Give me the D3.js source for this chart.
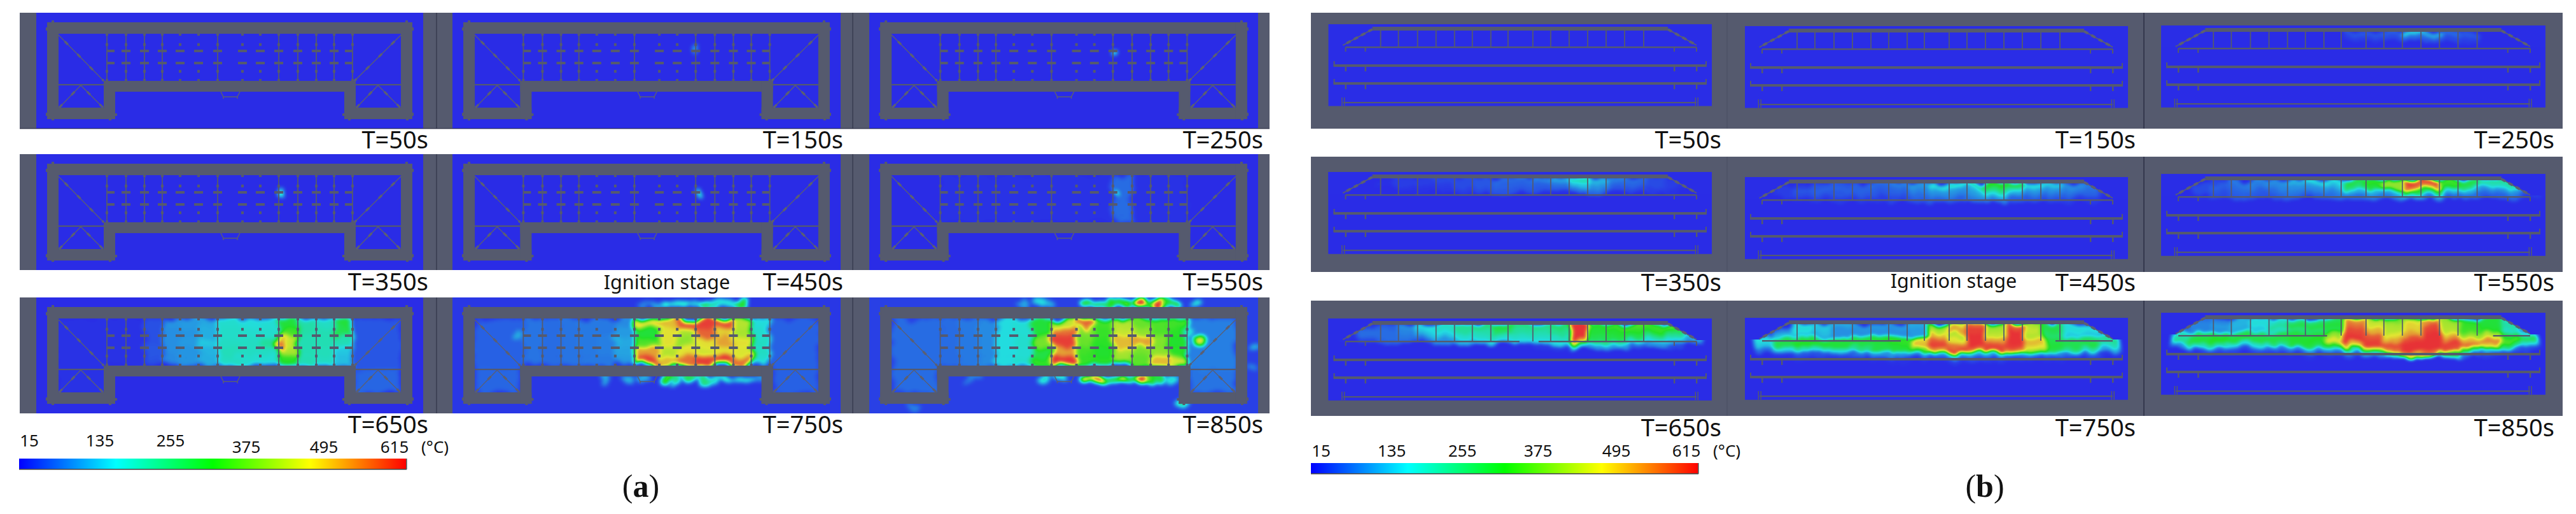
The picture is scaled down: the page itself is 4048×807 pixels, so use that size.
<!DOCTYPE html>
<html><head><meta charset="utf-8">
<script src="https://cdn.jsdelivr.net/npm/d3@7"></script>
<style>html,body{margin:0;padding:0;background:#fff}svg{display:block}text{font-family:"Noto Sans",sans-serif;fill:#111}</style>
</head><body><svg id="c" width="4048" height="807"></svg>
<script>
// ---------- chart values ----------
const times = [50,150,250,350,450,550,650,750,850];
const legendTicks = [15,135,255,375,495,615];
const legendColors = ["#0000ff","#00ffff","#00ff00","#ffff00","#ff0000"];
const fieldColors = ["#2a2de6","#23dce0","#23e128","#e1e632","#e82d37"];
const stageLabel = "Ignition stage";

// (a) plan view: bay temperatures, five rows by thirteen bays
const planBays550 = [[20,20,20,20,20,20,20,20,20,70,20,20,20],[20,20,20,20,20,20,20,20,20,70,20,20,20],[20,20,20,20,20,20,20,20,20,70,20,20,20],[20,20,20,20,20,20,20,20,20,70,20,20,20],[20,20,20,20,20,20,20,20,20,70,20,20,20]];
const planBays650 = [
 [20,20,45,105,110,120,180,170,175,300,210,190,300],
 [20,20,45,100,105,125,185,180,180,340,210,200,280],
 [20,20,45,100,110,150,190,190,220,440,200,200,200],
 [20,20,50,100,105,130,195,190,190,420,200,195,150],
 [20,20,45,95,105,125,190,180,175,320,200,190,140]];
const planBays750 = [
 [75,70,75,80,80,95,480,500,590,600,590,430,170],
 [75,70,75,80,80,110,300,470,420,570,480,420,180],
 [75,70,75,80,85,120,350,470,400,470,520,470,190],
 [75,70,75,80,85,115,520,430,470,450,470,460,190],
 [75,70,75,80,80,110,600,500,560,600,610,560,180]];
const planBays850 = [
 [70,80,95,165,175,300,440,570,340,430,370,350,340],
 [70,80,95,165,175,300,560,380,330,440,400,350,320],
 [70,80,95,165,180,380,600,370,320,500,520,390,310],
 [70,80,95,165,175,290,520,340,310,420,380,400,320],
 [70,80,95,165,180,330,610,330,320,410,360,500,450]];
// wing temperatures: upper left, lower left, upper right, lower right
const planWings650 = [20,20,50,65];
const planWings750 = [60,65,60,60];
const planWings850 = [70,70,85,75];
// local hot spots
const planSpots150 = [[380,60,150]];
const planSpots250 = [[385,62,300]];
const planSpots350 = [[382,60,300]];
const planSpots450 = [[384,62,320]];
const planSpots550 = [[385,62,400]];
const planSpots650 = [[381,76,560],[384,64,480]];
const planSpots750 = [[255,70,130],[105,60,130],[334,10,240],[350,10,190],[393,10,280],[410,10,200],[452,10,320],[360,10,210],[375,10,160],[435,10,180],[419,10,190],[320,10,120],[300,10,90],[334,128,360],[350,128,240],[372,128,280],[393,128,250],[412,128,190],[431,128,240],[450,128,190],[461,128,210],[238,128,130],[276,128,130],[300,128,130],[480,128,110]];
const planSpots850 = [[515,69,470],[500,55,190],[341,10,340],[358,10,290],[376,10,340],[390,10,330],[404,10,380],[425,10,620],[440,10,330],[454,10,620],[467,10,320],[480,10,330],[513,10,190],[268,10,170],[241,10,120],[285,10,130],[272,128,190],[298,128,190],[341,128,620],[353,128,520],[365,128,620],[380,128,330],[395,128,560],[410,128,340],[426,128,620],[440,128,330],[454,128,300],[476,128,180],[160,128,90],[487,164,220],[605,80,130],[600,110,90],[170,127,90],[70,172,90]];

// (b) section view: temperatures, rows from the roof down, nineteen columns
const secField250 = [[15,15,15,15,15,15,15,15,15,50,50,60,170,120,70,50,15,15,15],[15,15,15,15,15,15,15,15,15,30,30,40,70,50,40,30,15,15,15]];
const secField350 = [[15,15,15,30,30,40,40,50,70,70,90,120,200,130,90,70,40,30,15],[15,15,20,30,30,30,40,50,60,60,60,80,140,100,70,60,40,30,15],[15,15,15,20,20,25,30,40,50,50,50,60,80,70,50,40,30,20,15]];
const secField450 = [[15,15,30,50,50,60,70,90,110,170,190,230,330,300,170,150,100,80,30],[15,30,50,60,60,60,60,70,90,110,110,140,250,200,110,100,80,70,40],[15,30,40,50,50,50,50,60,70,90,90,110,160,120,80,70,60,60,30],[15,15,20,30,30,30,30,40,50,60,60,80,90,60,50,40,30,30,15]];
const secField550 = [[15,15,40,80,90,100,130,170,170,300,330,400,600,610,340,300,220,230,60],[15,40,60,70,80,90,100,110,130,260,300,400,560,540,320,260,190,190,90],[15,40,50,60,60,70,80,90,90,130,130,150,300,280,150,130,100,100,60],[15,20,40,50,50,50,60,60,70,70,80,90,120,100,70,70,60,60,30]];
const secField650 = [[15,30,60,100,170,190,230,250,300,240,240,260,610,320,340,350,330,370,100],[15,70,70,90,150,180,220,210,270,220,210,230,610,300,310,320,320,280,160],[20,70,70,80,120,150,180,190,200,190,190,190,610,280,290,280,240,220,150],[15,40,60,70,70,100,130,150,160,160,160,160,500,240,220,180,170,140,100],[15,15,15,15,15,15,15,15,15,20,25,30,210,110,110,60,100,40,15]];
const secField750 = [[15,15,170,150,120,110,110,110,120,400,450,560,400,580,420,290,170,170,60],[15,90,170,140,100,100,100,100,110,430,520,600,420,610,440,280,170,160,90],[60,140,150,120,100,100,100,100,110,510,430,610,440,610,430,260,150,140,120],[170,290,300,300,300,300,310,330,480,580,470,610,520,610,500,290,280,270,230],[150,280,320,310,300,290,300,320,500,600,560,610,590,600,470,300,280,290,200],[70,150,210,190,180,240,290,300,350,520,600,560,600,530,400,280,230,200,120],[15,25,50,45,50,70,100,100,100,110,130,140,130,110,100,90,70,50,25],[15,15,20,15,15,15,20,20,20,30,30,40,30,30,20,20,15,15,15]];
const secField850 = [[60,70,90,130,170,180,240,260,270,520,430,380,440,530,400,320,300,190,80],[80,90,110,130,170,220,290,290,300,560,450,420,480,590,420,330,300,210,100],[60,90,100,120,150,190,250,260,280,590,510,430,480,600,430,340,310,190,110],[200,280,300,290,280,290,300,300,400,600,580,470,520,610,480,400,430,300,170],[230,300,320,300,290,290,310,320,470,610,600,520,590,610,540,500,540,350,280],[100,200,220,170,180,240,300,290,300,500,600,590,610,610,600,560,470,250,180],[15,40,60,40,50,70,90,100,110,200,400,550,610,610,590,300,130,60,40],[15,15,15,15,15,15,20,20,30,50,120,250,500,560,300,70,30,15,15]];

// ---------- lookups by time ----------
const planBays = {550:planBays550,650:planBays650,750:planBays750,850:planBays850};
const planWings = {650:planWings650,750:planWings750,850:planWings850};
const planSpots = {150:planSpots150,250:planSpots250,350:planSpots350,450:planSpots450,550:planSpots550,650:planSpots650,750:planSpots750,850:planSpots850};
const planGround = {750:24,850:32};
const secFields = {250:secField250,350:secField350,450:secField450,550:secField550,650:secField650,750:secField750,850:secField850};

// ---------- drawing geometry (drawing units, not chart values) ----------
const GRAY="#555a6e", BLUE=fieldColors[0], LINE="#5b5f72";
const svg=d3.select("#c"), defs=svg.append("defs");
const gray=d3.scaleLinear().domain([15,615]).range([0,255]).clamp(true);
const valueFill=v=>{const g=Math.round(gray(v));return `rgb(${g},${g},${g})`;};

// colour map filters: the value image is softened, then coloured
function colourFilter(id,sx,sy,freq,amount){
  const f=defs.append("filter").attr("id",id).attr("x","0").attr("y","0").attr("width","1").attr("height","1")
    .attr("color-interpolation-filters","sRGB");
  f.append("feTurbulence").attr("type","fractalNoise").attr("baseFrequency",freq).attr("numOctaves",2).attr("seed",7).attr("result","wobble");
  f.append("feDisplacementMap").attr("in","SourceGraphic").attr("in2","wobble").attr("scale",amount).attr("xChannelSelector","R").attr("yChannelSelector","G").attr("result","moved");
  f.append("feGaussianBlur").attr("in","moved").attr("stdDeviation",`${sx} ${sy}`);
  const t=f.append("feComponentTransfer");
  const rgb=fieldColors.map(c=>d3.rgb(c));
  [["feFuncR","r"],["feFuncG","g"],["feFuncB","b"]].forEach(([n,k])=>{
    t.append(n).attr("type","table").attr("tableValues",rgb.map(c=>(c[k]/255).toFixed(3)).join(" "));
  });
}
colourFilter("heatPlan",3.6,3.2,"0.04 0.05",22);
colourFilter("heatSec",3.4,2.6,"0.05 0.025",20);

const legendGrad=defs.append("linearGradient").attr("id","legendGrad");
legendColors.forEach((c,i)=>legendGrad.append("stop").attr("offset",i/(legendColors.length-1)).attr("stop-color",c));

function label(txt,x,y,size,anchor){
  return svg.append("text").attr("x",x).attr("y",y).attr("font-size",size).attr("text-anchor",anchor||"end").text(txt);
}

// ---------- (a) plan panels ----------
const planCols=[[57,665],[711,1321],[1366,1977]];
const planRows=[20,242,467];
const PH=182;
const bayEdges=[111,141,170,198,226,255,285,324,352,381,411,440,468,497];
const bayLines=[111,141,170,198,285,381,411,440,468,497];
const bayCols=[226,255,324,352];
const planRects=[[17,15,574,18],[17,15,18,152],[17,149,107,18],[106,107,18,60],[106,107,396,17],[484,107,18,60],[484,149,107,18],[573,15,18,152]];
const planBits=[[15,23,4,5],[24,12,4,4],[589,23,4,5],[580,12,4,4],[15,157,4,5],[24,165,4,4],[114,165,4,4],[123,158,4,4],[481,158,4,4],[490,165,4,4],[581,165,4,4],[589,157,4,5]];
const planDiag=[[[35,35],[106,107]],[[573,35],[500,107]],[[70,114],[36,149]],[[70,114],[105,149]],[[537,114],[503,149]],[[537,114],[572,149]]];

svg.append("g").selectAll("rect").data(planRows).join("rect")
  .attr("x",31).attr("y",d=>d).attr("width",1964).attr("height",PH).attr("fill",GRAY);

times.forEach((t,i)=>{
  const col=planCols[i%3], top=planRows[Math.floor(i/3)];
  const x=d3.scaleLinear().domain([0,608]).range(col), y=d3.scaleLinear().domain([0,PH]).range([top,top+PH]);
  const cid=`pc${i}`;
  defs.append("clipPath").attr("id",cid).append("rect").attr("x",col[0]).attr("y",top).attr("width",col[1]-col[0]).attr("height",PH);
  const holder=svg.append("g").attr("clip-path",`url(#${cid})`);
  const g=holder.append("g").attr("filter","url(#heatPlan)");
  g.append("rect").attr("x",col[0]-20).attr("y",top-20).attr("width",col[1]-col[0]+40).attr("height",PH+40).attr("fill",valueFill(planGround[t]||15));
  const w=planWings[t];
  if(w){
    [[35,33,76,80,w[0]],[35,113,71,37,w[1]],[497,33,76,80,w[2]],[502,113,71,37,w[3]]].forEach(r=>{
      g.append("rect").attr("x",x(r[0])).attr("y",y(r[1])).attr("width",x(r[2])-x(0)).attr("height",y(r[3])-y(0)).attr("fill",valueFill(r[4]));
    });
  }
  const m=planBays[t];
  if(m){
    const rowY=d3.scaleBand().domain(d3.range(m.length)).range([y(33),y(107)]);
    m.forEach((row,ri)=>row.forEach((v,ci)=>{
      g.append("rect").attr("x",x(bayEdges[ci])).attr("y",rowY(ri)).attr("width",x(bayEdges[ci+1])-x(bayEdges[ci])+.5).attr("height",rowY.bandwidth()+.5).attr("fill",valueFill(v));
    }));
  }
  (planSpots[t]||[]).forEach(s=>{
    const outside=s[1]<15||s[1]>124;
    g.append("ellipse").attr("cx",x(s[0])).attr("cy",y(s[1])).attr("rx",t>=650?(outside?10:8):2.6).attr("ry",t>=650?(outside?6:7):(t>=450?7:5)).attr("fill",valueFill(s[2]));
  });
  // structure
  const b=svg.append("g").attr("fill",GRAY);
  planRects.concat(planBits).forEach(r=>b.append("rect").attr("x",x(r[0])).attr("y",y(r[1])).attr("width",x(r[2])-x(0)).attr("height",y(r[3])-y(0)));
  bayLines.forEach(v=>b.append("rect").attr("x",x(v)-.9).attr("y",y(33)).attr("width",1.8).attr("height",y(74)-y(0)));
  bayLines.concat(bayCols).forEach((v,k)=>{
    [60,79].forEach(yy=>b.append("rect").attr("x",x(v)-(v===111?0:(v===497?12:7))).attr("y",y(yy)-2).attr("width",v===111||v===497?12:14).attr("height",4));
    [50,92].forEach(yy=>b.append("rect").attr("x",x(v)-2).attr("y",y(yy)-2.2).attr("width",4).attr("height",4.4));
    [33,104].forEach(yy=>b.append("rect").attr("x",x(v)-2).attr("y",y(yy)).attr("width",4).attr("height",3));
  });
  [113].forEach(yy=>{
    [[35,106],[502,573]].forEach(s=>b.append("rect").attr("x",x(s[0])).attr("y",y(yy)-1.1).attr("width",x(s[1])-x(s[0])).attr("height",2.2));
  });
  const ln=d3.line().x(d=>x(d[0])).y(d=>y(d[1]));
  planDiag.forEach(d=>{
    svg.append("path").attr("d",ln(d)).attr("fill","none").attr("stroke",LINE).attr("stroke-width",1.3);
    svg.append("path").attr("d",ln(d)).attr("fill","none").attr("stroke",LINE).attr("stroke-width",3.4).attr("stroke-dasharray","7 21").attr("stroke-dashoffset","-14");
  });
  svg.append("path").attr("d",ln([[290,124],[294,132],[294,135],[294,132],[316,132],[316,135],[316,132],[320,124]])).attr("fill","none").attr("stroke",LINE).attr("stroke-width",1.5);
});

[[686,planRows[0]],[686,planRows[1]],[686,planRows[2]],[1340,planRows[0]],[1340,planRows[1]],[1340,planRows[2]]].forEach(d=>{
  svg.append("rect").attr("x",d[0]-.6).attr("y",d[1]).attr("width",1.2).attr("height",PH).attr("fill","#33364a");
});
svg.append("rect").attr("x",31).attr("y",201.4).attr("width",1964).attr("height",1).attr("fill","#22243a");

const planLabelX=[673,1325,1985], planLabelY=[233,456,680];
times.forEach((t,i)=>label(`T=${t}s`,planLabelX[i%3],planLabelY[Math.floor(i/3)],38));
label(stageLabel,1048,454,30.5,"middle");

// ---------- (b) section panels ----------
const secOuter=[[20,202],[246,427],[472,653]];
const secCols=[[2087.5,2690],[2742,3344],[3396,4000]];
const secTops=[[38,41,40],[270,278,273],[500,499,491]];
const SH=128.5;
const secBayX=[82,110,140,169,198,226,255,282,321,349,378,407,436,465,495];
const beamSpans={650:[[27,300],[330,578]],750:[[27,245],[488,578]],850:[[27,260],[520,578]]};
const slabRows=[65,93];

secOuter.forEach(o=>svg.append("rect").attr("x",2060).attr("y",o[0]).attr("width",1967).attr("height",o[1]-o[0]).attr("fill",GRAY));
times.forEach((t,i)=>{
  const col=secCols[i%3], top=secTops[Math.floor(i/3)][i%3];
  const x=d3.scaleLinear().domain([0,602]).range(col), y=d3.scaleLinear().domain([0,SH]).range([top,top+SH]);
  svg.append("rect").attr("x",col[0]).attr("y",top).attr("width",col[1]-col[0]).attr("height",SH).attr("fill",BLUE);
  const m=secFields[t];
  if(m){
    const cid=`sc${i}`;
    defs.append("clipPath").attr("id",cid).append("rect").attr("x",col[0]).attr("y",top).attr("width",col[1]-col[0]).attr("height",SH);
    const g=svg.append("g").attr("clip-path",`url(#${cid})`).append("g").attr("filter","url(#heatSec)");
    g.append("rect").attr("x",col[0]-20).attr("y",top-20).attr("width",col[1]-col[0]+40).attr("height",SH+40).attr("fill",valueFill(15));
    const cx=d3.scaleBand().domain(d3.range(19)).range([x(15),x(590)]);
    const cy=d3.scaleBand().domain(d3.range(8)).range([y(9),y(69)]);
    m.forEach((row,ri)=>row.forEach((v,ci)=>{
      g.append("rect").attr("x",cx(ci)).attr("y",cy(ri)).attr("width",cx.bandwidth()+.5).attr("height",cy.bandwidth()+.5).attr("fill",valueFill(v));
    }));
    // sky above the roof slopes stays cool
    const ln0=d3.line().x(d=>x(d[0])).y(d=>y(d[1]));
    svg.append("path").attr("d",ln0([[0,0],[602,0],[602,34],[578,34],[533,7],[69,7],[23,34],[0,34]])+"Z").attr("fill",BLUE);
  }
  const ln=d3.line().x(d=>x(d[0])).y(d=>y(d[1]));
  const s=svg.append("g").attr("fill",GRAY);
  s.append("rect").attr("x",x(69)).attr("y",y(4)).attr("width",x(533)-x(69)).attr("height",y(6)-y(0));
  [[[69,8],[23,33]],[[533,8],[578,33]]].forEach(d=>{
    svg.append("path").attr("d",ln(d)).attr("fill","none").attr("stroke",LINE).attr("stroke-width",1.6);
    svg.append("path").attr("d",ln(d)).attr("fill","none").attr("stroke",LINE).attr("stroke-width",4).attr("stroke-dasharray","7 6");
  });
  secBayX.forEach(v=>s.append("rect").attr("x",x(v)-.9).attr("y",y(10)).attr("width",1.8).attr("height",y(26)-y(0)));
  (beamSpans[t]||[[27,578]]).forEach(b=>s.append("rect").attr("x",x(b[0])).attr("y",y(35)).attr("width",x(b[1])-x(b[0])).attr("height",2.4));
  slabRows.forEach(r=>{
    s.append("rect").attr("x",x(8)).attr("y",y(r)-2).attr("width",x(594)-x(8)).attr("height",4);
    [8,592].forEach(v=>s.append("rect").attr("x",x(v)).attr("y",y(r)-7).attr("width",2).attr("height",8));
    [27,58,543,578].forEach(v=>s.append("rect").attr("x",x(v)-1).attr("y",y(r)+1).attr("width",2.4).attr("height",8));
  });
  [27,58,543,578].forEach(v=>{ if(!(t>=750)) s.append("rect").attr("x",x(v)-1).attr("y",y(36)).attr("width",2).attr("height",7); });
  s.append("rect").attr("x",x(23)).attr("y",y(122)).attr("width",x(578)-x(23)).attr("height",2.2);
  [23,578].forEach(v=>{
    s.append("rect").attr("x",x(v)-2.4).attr("y",y(115)).attr("width",1.5).attr("height",y(13.5)-y(0));
    s.append("rect").attr("x",x(v)+1.4).attr("y",y(115)).attr("width",1.5).attr("height",y(13.5)-y(0));
  });
});
[[2714,"#4c5064"],[3369,"#22243a"]].forEach(d=>secOuter.forEach(o=>{
  svg.append("rect").attr("x",d[0]-.6).attr("y",o[0]).attr("width",1.2).attr("height",o[1]-o[0]).attr("fill",d[1]);
}));
const secLabelX=[2705,3356,4014], secLabelY=[233,457,685];
times.forEach((t,i)=>label(`T=${t}s`,secLabelX[i%3],secLabelY[Math.floor(i/3)],38));
label(stageLabel,3070,452,30.5,"middle");

// ---------- legends ----------
function legend(x0,x1,yTop,yBot,centres,baselines,unitX){
  const scale=d3.scaleLinear().domain([15,615]).range([x0,x1]);
  svg.append("rect").attr("x",x0).attr("y",yTop).attr("width",x1-x0).attr("height",yBot-yTop).attr("fill","url(#legendGrad)");
  svg.append("rect").attr("x",x0).attr("y",yBot-1).attr("width",x1-x0).attr("height",1.6).attr("fill","#444");
  svg.append("rect").attr("x",scale(615)-1).attr("y",yTop).attr("width",1.6).attr("height",yBot-yTop).attr("fill","#555");
  legendTicks.forEach((v,i)=>label(String(v),centres[i],baselines[i],26,"middle"));
  label("(°C)",unitX,baselines[5],26,"start");
}
legend(30,639,720,737,[46,157,268,387,509,620],[701,701,701,711,711,711],662);
legend(2060,2669,727,744,[2076,2187,2298,2417,2540,2650],[717,717,717,717,717,717],2692);

// ---------- sub-figure letters ----------
function letter(ch,x){
  const t=svg.append("text").attr("x",x).attr("y",780).attr("font-size",50).attr("text-anchor","middle").style("font-family","'Liberation Serif',serif");
  t.append("tspan").text("(");
  t.append("tspan").attr("font-weight","bold").text(ch);
  t.append("tspan").text(")");
}
letter("a",1007);
letter("b",3119);
</script></body></html>
